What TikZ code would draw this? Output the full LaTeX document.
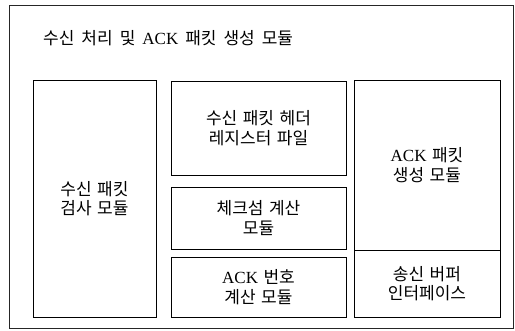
\documentclass[tikz,border=0pt]{standalone}
\usepackage{fontspec}
\setmainfont{Noto Sans CJK KR}
\newfontfamily\latinserif{Liberation Serif}
\newcommand\mytitlefont{\fontsize{17pt}{19.5pt}\selectfont\spaceskip 7pt\relax}
\newcommand\myboxfont{\fontsize{17pt}{19.5pt}\selectfont\spaceskip 5.5pt\relax}
\begin{document}
\begin{tikzpicture}[x=1pt,y=-1pt,
  modbox/.style={draw=black,line width=0.8pt,rectangle,inner sep=0pt,align=center,
    font=\myboxfont},
  frame/.style={draw=black!85,line width=0.6pt}]
\useasboundingbox (0,0) rectangle (515,331);
\node[frame,rectangle,minimum width=504pt,minimum height=323pt,inner sep=0pt] (outer) at (261,166.5) {};
\node[anchor=west,inner sep=0pt,font=\mytitlefont] (title) at (43,38) {수신 처리 및 {\latinserif ACK} 패킷 생성 모듈};
\node[modbox,minimum width=123pt,minimum height=237pt] (check) at (94.5,198.5) {수신 패킷\\검사 모듈};
\node[modbox,minimum width=175pt,minimum height=94pt] (hdr) at (258.5,128) {수신 패킷 헤더\\레지스터 파일};
\node[modbox,minimum width=175pt,minimum height=62pt] (csum) at (258.5,218) {체크섬 계산\\모듈};
\node[modbox,minimum width=175pt,minimum height=60pt] (acknum) at (258.5,287) {{\latinserif ACK} 번호\\계산 모듈};
\node[modbox,minimum width=146pt,minimum height=170pt] (ackgen) at (427,165) {{\latinserif ACK} 패킷\\생성 모듈};
\node[modbox,minimum width=146pt,minimum height=67pt] (txbuf) at (427,283.5) {송신 버퍼\\인터페이스};
\end{tikzpicture}
\end{document}
